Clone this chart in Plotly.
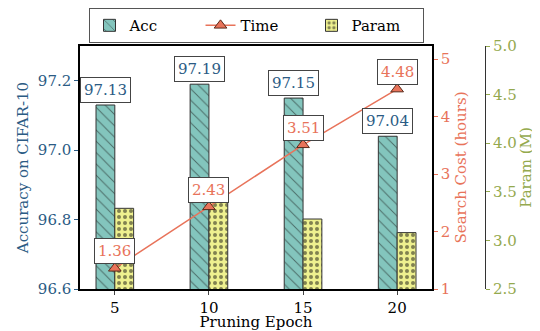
import plotly.graph_objects as go

epochs = [5, 10, 15, 20]
acc = [97.13, 97.19, 97.15, 97.04]
time_cost = [1.36, 2.43, 3.51, 4.48]
param = [3.33, 3.39, 3.22, 3.08]

BLUE = "#2B5B84"
ORANGE = "#E8735A"
GREEN = "#94A94E"
TEAL = "#83C5BD"
YELLOW = "#EEF08F"
FONT = "DejaVu Serif, Liberation Serif, serif"

fig = go.Figure()
fig.add_trace(go.Bar(
    x=[e - 0.5 for e in epochs], y=acc, width=1, name="Acc", yaxis="y",
    marker=dict(color=TEAL, line=dict(color="#333333", width=1),
                pattern=dict(shape="\\", fgcolor="#111111", bgcolor=TEAL, size=8, solidity=0.12)),
    legendrank=1,
))
fig.add_trace(go.Scatter(
    x=epochs, y=time_cost, name="Time", yaxis="y3", mode="lines+markers",
    line=dict(color=ORANGE, width=1.5),
    marker=dict(symbol="triangle-up", size=11, color=ORANGE, line=dict(color="#5a2a1a", width=1)),
    legendrank=2,
))
fig.add_trace(go.Bar(
    x=[e + 0.5 for e in epochs], y=param, width=1, name="Param", yaxis="y2",
    marker=dict(color=YELLOW, line=dict(color="#333333", width=1),
                pattern=dict(shape=".", fgcolor="#111111", bgcolor=YELLOW, size=6, solidity=0.35)),
    legendrank=3,
))

anns = []
for e, a in zip(epochs, acc):
    anns.append(dict(x=e - 0.5, y=a, xref="x", yref="y", text=f"{a:.2f}", showarrow=False,
                     yshift=15, font=dict(family=FONT, size=15, color=BLUE),
                     bgcolor="white", bordercolor="#444444", borderwidth=1, borderpad=3))
for e, t in zip(epochs, time_cost):
    anns.append(dict(x=e, y=t, xref="x", yref="y3", text=f"{t:.2f}", showarrow=False,
                     yshift=17, font=dict(family=FONT, size=15, color=ORANGE),
                     bgcolor="white", bordercolor="#444444", borderwidth=1, borderpad=3))

# page body has an 8px margin, so the figure is sized/offset to compensate
fig.update_layout(
    width=532, height=323,
    margin=dict(l=72, r=55, t=38, b=42, autoexpand=False),
    paper_bgcolor="white", plot_bgcolor="white",
    font=dict(family=FONT, size=15, color="black"),
    barmode="overlay",
    showlegend=True,
    legend=dict(orientation="h", x=0.4346, xanchor="center", y=1.156, yanchor="top",
                bordercolor="#555555", borderwidth=1, font=dict(family=FONT, size=15),
                entrywidth=66, traceorder="normal"),
    xaxis=dict(domain=[0, 0.8691], range=[3.15, 21.85], tickvals=epochs, automargin=False,
               ticks="outside", ticklen=4, showline=True, linecolor="black", linewidth=1.5,
               mirror=True, showgrid=False, zeroline=False,
               title=dict(text="Pruning Epoch", font=dict(size=15), standoff=8),
               tickfont=dict(size=15)),
    yaxis=dict(range=[96.6, 97.3], tickvals=[96.6, 96.8, 97.0, 97.2], tickformat=".1f",
               automargin=False,
               ticks="outside", ticklen=4, tickcolor=BLUE, showline=True, linecolor="black",
               linewidth=1.5, showgrid=False, zeroline=False,
               tickfont=dict(size=15, color=BLUE),
               title=dict(text="Accuracy on CIFAR-10", font=dict(size=15, color=BLUE), standoff=6)),
    yaxis3=dict(range=[1, 5.23], tickvals=[1, 2, 3, 4, 5], overlaying="y", side="right", anchor="x",
                automargin=False,
                ticks="outside", ticklen=4, tickcolor=ORANGE, showline=True, linecolor="black",
                linewidth=1.5, showgrid=False, zeroline=False,
                tickfont=dict(size=15, color=ORANGE),
                title=dict(text="Search Cost (hours)", font=dict(size=15, color=ORANGE), standoff=6)),
    yaxis2=dict(range=[2.5, 5.0], tickvals=[2.5, 3.0, 3.5, 4.0, 4.5, 5.0], tickformat=".1f",
                overlaying="y", side="right", anchor="free", position=1, automargin=False,
                ticks="outside", ticklen=4, tickcolor=GREEN, showline=True, linecolor="#333333",
                linewidth=1, showgrid=False, zeroline=False,
                tickfont=dict(size=15, color=GREEN),
                title=dict(text="Param (M)", font=dict(size=15, color=GREEN), standoff=4)),
    annotations=anns,
)

fig.write_html("out.html")
